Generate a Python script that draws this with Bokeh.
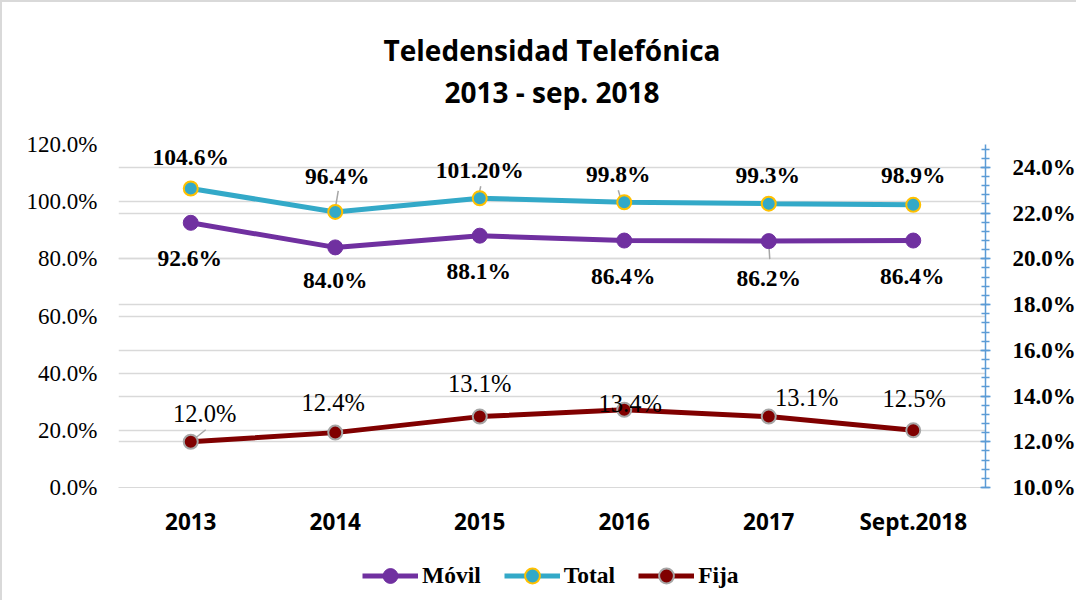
from bokeh.plotting import figure
from bokeh.layouts import column
from bokeh.models import (ColumnDataSource, Range1d, LinearAxis, SingleIntervalTicker, Grid,
                          CustomJSTickFormatter, Legend, LegendItem, Title, FactorRange)
from bokeh.core.properties import value
from bokeh.embed import file_html
from bokeh.resources import INLINE

# ---------------- data ----------------
categories = ["2013", "2014", "2015", "2016", "2017", "Sept.2018"]
movil = [92.6, 84.0, 88.1, 86.4, 86.2, 86.4]
total = [104.6, 96.4, 101.2, 99.8, 99.3, 98.9]
fija = [12.0, 12.4, 13.1, 13.4, 13.1, 12.5]
movil_labels = ["92.6%", "84.0%", "88.1%", "86.4%", "86.2%", "86.4%"]
total_labels = ["104.6%", "96.4%", "101.20%", "99.8%", "99.3%", "98.9%"]
fija_labels = ["12.0%", "12.4%", "13.1%", "13.4%", "13.1%", "12.5%"]
series_names = ["Móvil", "Total", "Fija"]
title_lines = ["Teledensidad Telefónica", "2013 - sep. 2018"]

# ---------------- label placement (screen px) ----------------
total_dx = [0, 2, 0, -6, -1, 0]
total_dy = [-32, -36, -28, -28, -29, -30]
movil_dx = [-1, 0, -1, -1, 0, -1]
movil_dy = [35, 33, 35, 35, 37, 35]
fija_dx = [14, -2, 0, 6, 38, 1]
fija_dy = [-28, -30, -33, -6, -19, -32]
# leader lines: (series, index, px offsets start -> end, relative to the point)
leaders = [("total", 1, (0, -3), (3, -21)),
           ("total", 2, (-1, -3), (1, -12)),
           ("total", 3, (-6, -12), (-3, -2)),
           ("movil", 4, (0, 1), (1, 18)),
           ("fija", 0, (0, 0), (15, -12))]

C_MOVIL = "#7030A0"
C_TOTAL = "#33A9C8"
C_FIJA = "#800000"
GRID = "#d9d9d9"
W = 1076
FRAME_W, FRAME_H = 870, 343

p = figure(width=W, height=540, x_range=FactorRange(factors=categories),
           y_range=Range1d(0, 120), output_backend="svg", toolbar_location=None,
           min_border_left=116, min_border_right=90, min_border_top=142, min_border_bottom=55)
p.extra_y_ranges = {"right": Range1d(10, 25)}
p.outline_line_color = None
p.background_fill_color = "white"
p.border_fill_color = "white"
p.styles = {"border-left": "2px solid #d9d9d9", "border-top": "2px solid #d9d9d9"}

# titles: spacer closest to the frame, then line 2, then line 1
spacer = Title(text=" ", text_font="Open Sans", text_font_size="10px", standoff=18)
t2 = Title(text=title_lines[1], align="center", text_font="Open Sans", text_font_style="bold",
           text_font_size="28px", text_color="black", standoff=0)
t1 = Title(text=title_lines[0], align="center", text_font="Open Sans", text_font_style="bold",
           text_font_size="28px", text_color="black", standoff=4)
p.add_layout(spacer, "above")
p.add_layout(t2, "above")
p.add_layout(t1, "above")

# left axis
fmt = CustomJSTickFormatter(code="return tick.toFixed(1) + '%';")
ya = p.yaxis[0]
ya.ticker = SingleIntervalTicker(interval=20, num_minor_ticks=0)
ya.formatter = fmt
ya.axis_line_color = None
ya.major_tick_line_color = None
ya.minor_tick_line_color = None
ya.major_label_text_font = "Liberation Serif"
ya.major_label_text_font_size = "23px"
ya.major_label_text_color = "black"
ya.major_label_standoff = 15
p.ygrid.grid_line_color = GRID
p.ygrid.grid_line_width = 1.5
p.ygrid.ticker = ya.ticker

# right axis
rticker = SingleIntervalTicker(interval=2, num_minor_ticks=5)
ra = LinearAxis(y_range_name="right", ticker=rticker, formatter=fmt,
                axis_line_color="#5B9BD5", axis_line_width=1.5,
                major_tick_line_color="#5B9BD5", major_tick_line_width=1.5,
                minor_tick_line_color="#5B9BD5", minor_tick_line_width=1.5,
                major_tick_in=5, major_tick_out=5, minor_tick_in=4, minor_tick_out=4,
                major_label_standoff=22, major_label_text_font="Liberation Serif",
                major_label_text_font_style="bold", major_label_text_font_size="23px",
                major_label_text_color="black")
p.add_layout(ra, "right")
rgrid = Grid(dimension=1, ticker=rticker, y_range_name="right",
             grid_line_color=GRID, grid_line_width=1.5)
p.add_layout(rgrid)

# x axis
xa = p.xaxis[0]
xa.axis_line_color = GRID
xa.major_tick_line_color = None
xa.minor_tick_line_color = None
xa.major_label_text_font = "Open Sans"
xa.major_label_text_font_style = "bold"
xa.major_label_text_font_size = "22.5px"
xa.major_label_text_color = "black"
xa.major_label_standoff = 12
p.xgrid.visible = False

# series
src_m = ColumnDataSource(dict(x=categories, y=movil, t=movil_labels, dx=movil_dx, dy=movil_dy))
src_t = ColumnDataSource(dict(x=categories, y=total, t=total_labels, dx=total_dx, dy=total_dy))
src_f = ColumnDataSource(dict(x=categories, y=fija, t=fija_labels, dx=fija_dx, dy=fija_dy))

# leader lines (drawn under the markers)
series_vals = {"total": (total, 120.0 / FRAME_H), "movil": (movil, 120.0 / FRAME_H),
               "fija": (fija, 15.0 / FRAME_H)}
lead = {"left": dict(x0=[], y0=[], x1=[], y1=[]), "right": dict(x0=[], y0=[], x1=[], y1=[])}
for name, i, (ax, ay), (bx, by) in leaders:
    vals, k = series_vals[name]
    d = lead["right" if name == "fija" else "left"]
    d["x0"].append(i + 0.5 + ax / (FRAME_W / len(categories)))
    d["x1"].append(i + 0.5 + bx / (FRAME_W / len(categories)))
    d["y0"].append(vals[i] - ay * k)
    d["y1"].append(vals[i] - by * k)
p.segment("x0", "y0", "x1", "y1", source=ColumnDataSource(lead["left"]),
          line_color="#A6A6A6", line_width=1.5)
p.segment("x0", "y0", "x1", "y1", source=ColumnDataSource(lead["right"]), y_range_name="right",
          line_color="#A6A6A6", line_width=1.5)

line_m = dict(line_color=C_MOVIL, line_width=5)
mark_m = dict(size=15, fill_color=C_MOVIL, line_color=C_MOVIL, line_width=1)
line_t = dict(line_color=C_TOTAL, line_width=5)
mark_t = dict(size=14, fill_color=C_TOTAL, line_color="#FFC000", line_width=2)
line_f = dict(line_color=C_FIJA, line_width=5)
mark_f = dict(size=14, fill_color=C_FIJA, line_color="#A6A6A6", line_width=2)

p.line("x", "y", source=src_m, **line_m)
p.scatter("x", "y", source=src_m, **mark_m)
p.line("x", "y", source=src_t, **line_t)
p.scatter("x", "y", source=src_t, **mark_t)
p.line("x", "y", source=src_f, y_range_name="right", **line_f)
p.scatter("x", "y", source=src_f, y_range_name="right", **mark_f)

lab_kw = dict(text_align="center", text_baseline="middle", text_color="black",
              text_font=value("Liberation Serif"))
p.text("x", "y", text="t", x_offset="dx", y_offset="dy", source=src_t,
       text_font_size="23.5px", text_font_style="bold", **lab_kw)
p.text("x", "y", text="t", x_offset="dx", y_offset="dy", source=src_m,
       text_font_size="23.5px", text_font_style="bold", **lab_kw)
p.text("x", "y", text="t", x_offset="dx", y_offset="dy", source=src_f, y_range_name="right",
       text_font_size="24.5px", text_font_style="normal", **lab_kw)

# legend strip below the chart (series drawn out of view; only the legend shows)
lg = figure(width=W, height=60, x_range=Range1d(-20, -10), y_range=Range1d(-20, -10),
            output_backend="svg", toolbar_location=None, min_border=0)
lg.axis.visible = False
lg.grid.visible = False
lg.outline_line_color = None
lg.styles = {"border-left": "2px solid #d9d9d9"}
items = []
for name, vals, lk, mk in zip(series_names, [movil, total, fija],
                              [line_m, line_t, line_f], [mark_m, mark_t, mark_f]):
    src = ColumnDataSource(dict(x=list(range(len(vals))), y=vals))
    r1 = lg.line("x", "y", source=src, **lk)
    r2 = lg.scatter("x", "y", source=src, **mk)
    items.append(LegendItem(label=name, renderers=[r1, r2]))
legend = Legend(items=items, orientation="horizontal", location=(244, 6),
                label_text_font="Liberation Serif", label_text_font_style="bold",
                label_text_font_size="23.5px", label_text_color="black",
                glyph_width=56, glyph_height=37, label_standoff=4, spacing=23,
                padding=0, margin=0, border_line_color=None, background_fill_alpha=0)
lg.add_layout(legend)

layout = column(p, lg, spacing=0)
open("out.html", "w").write(file_html(layout, INLINE))
